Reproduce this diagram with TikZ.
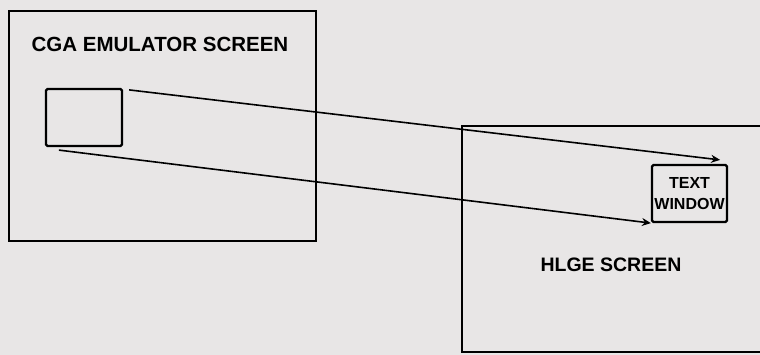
\documentclass[tikz,border=0pt]{standalone}
\usepackage{fontspec}
\setmainfont{Liberation Sans}
\usepackage{tikz}
\usetikzlibrary{arrows.meta, positioning, calc}
\usepackage{xcolor}
\definecolor{paper}{RGB}{232,230,230}
\tikzstyle{screen} = [rectangle, draw=black, line width=2.4pt, inner sep=0pt]
\tikzstyle{win} = [rectangle, rounded corners=1.5pt, draw=black, line width=2.2pt, inner sep=0pt, align=center]
\tikzstyle{label} = [font=\bfseries\fontsize{19.5}{19.5}\selectfont, inner sep=0pt]
\tikzstyle{arrow} = [line width=1.6pt,-{Stealth[length=9pt,width=8pt]}]

\begin{document}
\begin{tikzpicture}[x=1pt, y=-1pt]
  % Page and paper
  \fill[paper] (0,0) rectangle (760,355);
  \clip (0,0) rectangle (760,355);

  % CGA side
  \node[screen, minimum width=307pt, minimum height=230pt] (cga) at (162.5,126) {};
  \node[label, font=\bfseries\fontsize{20.5}{20.5}\selectfont] (cgatitle) at (160,44) {CGA EMULATOR SCREEN};
  \node[win, minimum width=76pt, minimum height=57pt] (cgawin) at (84,117.5) {};

  % HLGE side
  \node[screen, minimum width=340pt, minimum height=226pt] (hlge) at (632,239) {};
  \node[win, minimum width=75pt, minimum height=57pt, font=\bfseries\fontsize{16}{21}\selectfont] (textwin) at (689.5,193.5) {TEXT\\WINDOW};
  \node[label] (hlgetitle) at (611,265) {HLGE SCREEN};

  % Mapping
  \draw[arrow] ([xshift=6pt,yshift=-2pt]cgawin.north east) -- ([xshift=-8pt,yshift=4pt]textwin.north east);
  \draw[arrow] ([xshift=14pt,yshift=-3pt]cgawin.south west) -- (textwin.south west);
\end{tikzpicture}
\end{document}
